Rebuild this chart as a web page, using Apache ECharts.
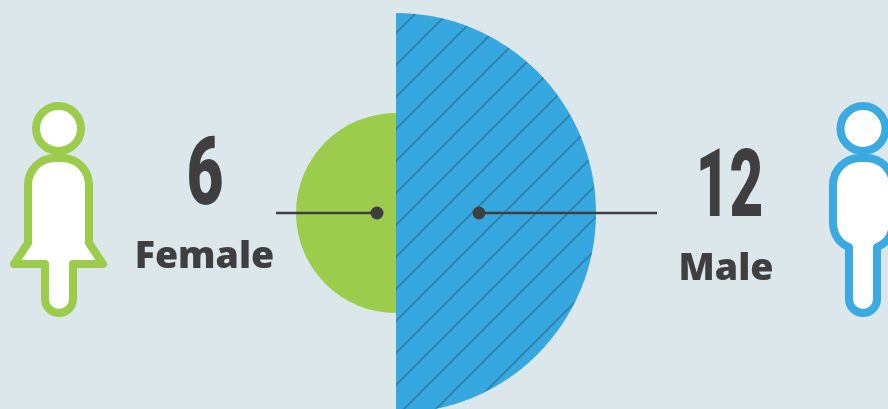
<!DOCTYPE html>
<html><head><meta charset="utf-8">
<script src="https://cdn.jsdelivr.net/npm/echarts@6/dist/echarts.min.js"></script>
<style>html,body{margin:0;padding:0;background:#dce7ec}#c{width:888px;height:409px}</style>
</head><body><div id="c"></div>
<script>
const categories = ['Male', 'Female'];
const counts = [12, 6];

const ink = '#3f3f3f', blue = '#36a7df', blueLine = '#3aaae0', green = '#9ccc4c';

// diagonal hatch tile
const tile = document.createElement('canvas');
tile.width = tile.height = 32;
const t = tile.getContext('2d');
t.fillStyle = blue; t.fillRect(0, 0, 32, 32);
t.strokeStyle = '#2f80ad'; t.lineWidth = 1.8;
[13, 45, 77].forEach(c => { t.beginPath(); t.moveTo(c, 0); t.lineTo(0, c); t.stroke(); });

const femaleBody = 'M45 264 L14 264 L28 243 L28 185 C28 170 40 158 55 158 L62 158 C77 158 89 170 89 185 L89 243 L103 264 L73 264 L73 299 A14 14 0 0 1 45 299 Z';
const maleBody = 'M849 299 L849 247 C840 244 833 235 833 222 L833 185 C833 170 845 158 860 158 L866 158 C881 158 893 170 893 185 L893 222 C893 235 886 244 877 247 L877 299 A14 14 0 0 1 849 299 Z';
echarts.graphic.registerShape('femaleBody', echarts.graphic.extendPath(femaleBody, {}));
echarts.graphic.registerShape('maleBody', echarts.graphic.extendPath(maleBody, {}));
const bodyStyle = c => ({ fill: '#fff', stroke: c, lineWidth: 8, lineJoin: 'round' });
const num = (x, y, s, sx) => ({ type: 'text', x, y, z: 10, scaleX: sx, style: { text: s, font: '900 94px Roboto', fill: ink, textAlign: 'center', textVerticalAlign: 'middle' } });
const word = (x, y, s) => ({ type: 'text', x, y, z: 10, style: { text: s, font: '800 37.5px "Open Sans"', fill: ink, textAlign: 'center', textVerticalAlign: 'middle' } });

const chart = echarts.init(document.getElementById('c'));
chart.setOption({
  animation: false,
  backgroundColor: '#dce7ec',
  series: [{
    type: 'pie', roseType: 'area', center: [396, 213], radius: [0, 200],
    startAngle: 90, clockwise: true, silent: true,
    label: { show: false }, labelLine: { show: false },
    data: categories.map((name, i) => ({
      name, value: counts[i],
      itemStyle: { color: i === 0 ? { image: tile, repeat: 'repeat' } : green }
    }))
  }],
  graphic: [
    { type: 'line', z: 10, shape: { x1: 276, y1: 213, x2: 377, y2: 213 }, style: { stroke: ink, lineWidth: 2.4 } },
    { type: 'circle', z: 10, shape: { cx: 377, cy: 213, r: 6.5 }, style: { fill: ink } },
    { type: 'line', z: 10, shape: { x1: 479, y1: 213, x2: 657, y2: 213 }, style: { stroke: ink, lineWidth: 2.4 } },
    { type: 'circle', z: 10, shape: { cx: 479, cy: 213, r: 6.5 }, style: { fill: ink } },
    { type: 'femaleBody', z: 10, style: bodyStyle(green) },
    { type: 'circle', z: 10, shape: { cx: 58.5, cy: 128.5, r: 22.5 }, style: { fill: '#fff', stroke: green, lineWidth: 8 } },
    { type: 'maleBody', z: 10, style: bodyStyle(blueLine) },
    { type: 'circle', z: 10, shape: { cx: 863, cy: 128.5, r: 22.5 }, style: { fill: '#fff', stroke: blueLine, lineWidth: 8 } },
    num(205, 180, String(counts[1]), 0.68),
    num(729.5, 192, String(counts[0]), 0.62),
    word(204.5, 257.5, categories[1]),
    word(726, 269.5, categories[0])
  ]
});
</script></body></html>
